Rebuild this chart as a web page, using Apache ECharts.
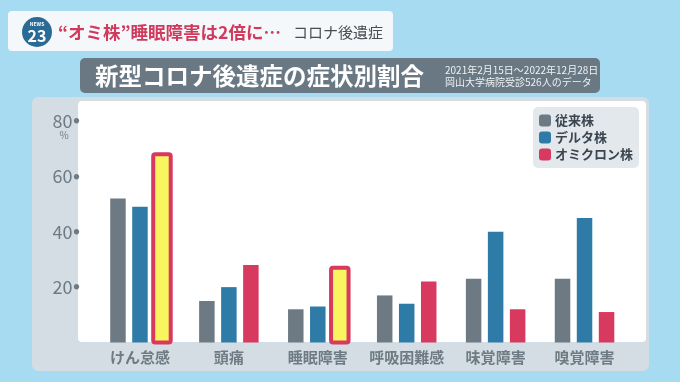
<!DOCTYPE html>
<html>
<head>
<meta charset="utf-8">
<script src="https://cdn.jsdelivr.net/npm/echarts@6/dist/echarts.min.js"></script>
<style>
html,body{margin:0;padding:0;background:#a6dbf2;}
#chart{width:680px;height:382px;}
</style>
</head>
<body>
<div id="chart"></div>
<script>
const categories = ['けん怠感', '頭痛', '睡眠障害', '呼吸困難感', '味覚障害', '嗅覚障害'];
const seriesNames = ['従来株', 'デルタ株', 'オミクロン株'];
const conventional = [52, 15, 12, 17, 23, 23];
const delta = [49, 20, 13, 14, 40, 45];
const omicron = [68, 28, 27, 22, 12, 11];
const highlighted = [0, 2];
const yTicks = [0, 20, 40, 60, 80];

const FONT = '"Noto Sans CJK JP", "Noto Sans", sans-serif';
const GRAY = '#6d7a84', BLUE = '#2f7ba8', RED = '#d8395f', YELLOW = '#f9f55e';
const LABEL = '#6f7b84';
const BAR_W = 15.5, GAP_RATIO = 0.42;
const OMI_OFFSET = BAR_W * (1 + GAP_RATIO);   // third bar centre relative to category centre
const OUTLINE_W = 17.5, OUTLINE_LW = 4;

const chart = echarts.init(document.getElementById('chart'));

const omicronData = omicron.map((v, i) => highlighted.includes(i)
  ? { value: v, itemStyle: { color: YELLOW } }
  : v);
const outlineData = highlighted.map(i => [i, omicron[i]]);

chart.setOption({
  backgroundColor: '#a6dbf2',
  textStyle: { fontFamily: FONT },
  animation: false,
  graphic: [
    // header box
    { type: 'rect', shape: { x: 8, y: 11, width: 385, height: 40, r: 4 }, style: { fill: '#f5f8fa' }, z: 0 },
    { type: 'circle', shape: { cx: 37, cy: 32, r: 15 }, style: { fill: '#2a6b96' }, z: 1 },
    { type: 'text', x: 37, y: 24, style: { text: 'NEWS', fill: '#ffffff', font: 'bold 5px ' + FONT, align: 'center', verticalAlign: 'middle' }, z: 2 },
    { type: 'text', x: 37, y: 36, style: { text: '23', fill: '#ffffff', font: 'bold 16px ' + FONT, align: 'center', verticalAlign: 'middle' }, z: 2 },
    { type: 'text', x: 58, y: 32, style: { text: '“オミ株”睡眠障害は2倍に…', fill: '#d03a5d', font: 'bold 17.5px ' + FONT, verticalAlign: 'middle' }, z: 2 },
    { type: 'text', x: 293, y: 32, style: { text: 'コロナ後遺症', fill: '#4a4d52', font: '15px ' + FONT, verticalAlign: 'middle' }, z: 2 },
    // title box
    { type: 'rect', shape: { x: 80, y: 58, width: 520, height: 35, r: 5 }, style: { fill: '#697882' }, z: 0 },
    { type: 'text', x: 95, y: 76, style: { text: '新型コロナ後遺症の症状別割合', fill: '#ffffff', font: 'bold 23.5px ' + FONT, verticalAlign: 'middle' }, z: 2 },
    { type: 'text', x: 445, y: 70, style: { text: '2021年2月15日～2022年12月28日', fill: '#eef2f4', font: '10px ' + FONT, verticalAlign: 'middle' }, z: 2 },
    { type: 'text', x: 445, y: 82, style: { text: '岡山大学病院受診526人のデータ', fill: '#eef2f4', font: '10px ' + FONT, verticalAlign: 'middle' }, z: 2 },
    // chart panel
    { type: 'rect', shape: { x: 32, y: 97, width: 617, height: 274, r: 6 }, style: { fill: '#d3dde3' }, z: -10 },
    { type: 'rect', shape: { x: 78, y: 101, width: 568, height: 241, r: 4 }, style: { fill: '#ffffff' }, z: -9 },
    { type: 'text', x: 64, y: 135, style: { text: '%', fill: LABEL, font: '10px ' + FONT, align: 'center', verticalAlign: 'middle' }, z: 2 }
  ],
  legend: {
    orient: 'vertical',
    left: 533, top: 107,
    width: 105,
    padding: [7, 6, 7, 6],
    itemGap: 4,
    itemWidth: 12, itemHeight: 12,
    icon: 'roundRect',
    backgroundColor: '#e2e8ec',
    borderRadius: 5,
    textStyle: { fontFamily: FONT, fontSize: 13, fontWeight: 'bold', color: '#3b4650', padding: [0, 0, 0, -1] },
    data: seriesNames
  },
  grid: { left: 95.5, right: 51, top: 121, bottom: 39.5, containLabel: false },
  xAxis: {
    type: 'category',
    data: categories,
    axisLine: { show: false },
    axisTick: { show: false },
    axisLabel: { interval: 0, color: LABEL, fontSize: 15, fontWeight: 'bold', fontFamily: FONT, margin: 7 }
  },
  yAxis: {
    type: 'value',
    min: yTicks[0], max: yTicks[yTicks.length - 1], interval: 20,
    splitLine: { show: false },
    axisLine: { show: false },
    axisTick: { show: false },
    axisLabel: {
      margin: 16,
      formatter: v => v === 0 ? '' : '{n|' + v + '}{d|●}',
      rich: {
        n: { fontSize: 18, color: LABEL, fontFamily: FONT, verticalAlign: 'middle' },
        d: { fontSize: 6, color: LABEL, padding: [0, 0, 0, 1], verticalAlign: 'middle' }
      }
    }
  },
  series: [
    { name: seriesNames[0], type: 'bar', data: conventional, barWidth: BAR_W, barGap: (GAP_RATIO * 100) + '%', itemStyle: { color: GRAY } },
    { name: seriesNames[1], type: 'bar', data: delta, barWidth: BAR_W, barGap: (GAP_RATIO * 100) + '%', itemStyle: { color: BLUE } },
    { name: seriesNames[2], type: 'bar', data: omicronData, barWidth: BAR_W, barGap: (GAP_RATIO * 100) + '%', itemStyle: { color: RED } },
    {
      name: 'highlight', type: 'custom', data: outlineData, z: 5,
      renderItem: (params, api) => {
        const idx = api.value(0), v = api.value(1);
        const top = api.coord([idx, v]);
        const base = api.coord([idx, 0]);
        const cx = top[0] + OMI_OFFSET;
        return {
          type: 'rect',
          shape: { x: cx - OUTLINE_W / 2, y: top[1], width: OUTLINE_W, height: base[1] - top[1], r: 2 },
          style: { fill: 'none', stroke: RED, lineWidth: OUTLINE_LW }
        };
      }
    }
  ]
});
</script>
</body>
</html>
